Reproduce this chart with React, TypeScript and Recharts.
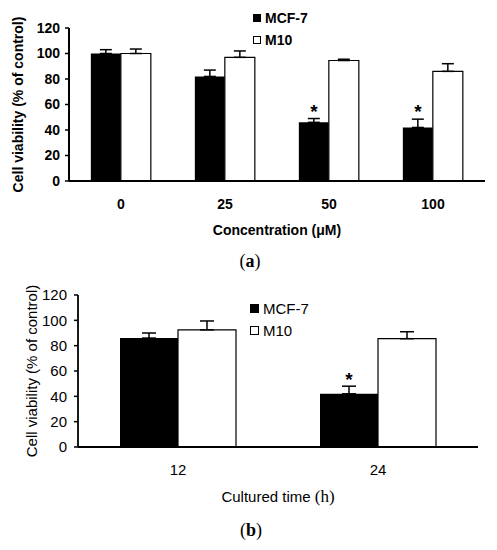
import { Bar, BarChart, ErrorBar, Label, LabelList, Legend, XAxis, YAxis } from 'recharts';

const concLabels = ['0', '25', '50', '100'];
const mcf7Conc = [100, 82, 46, 42];
const mcf7ConcErr = [3, 5, 3, 6.5];
const m10Conc = [100, 97, 94.5, 86];
const m10ConcErr = [3.5, 5, 1, 6];
const concMarks = ['', '', '*', '*'];

const timeLabels = ['12', '24'];
const mcf7Time = [86, 42];
const mcf7TimeErr = [4, 6];
const m10Time = [92.5, 85.5];
const m10TimeErr = [7, 5.5];
const timeMarks = ['', '*'];

const seriesNames = ['MCF-7', 'M10'];
const yTicks = [0, 20, 40, 60, 80, 100, 120];

const sans = '"Liberation Sans", Arial, sans-serif';
const serif = '"Liberation Serif", "Times New Roman", serif';

const concData = concLabels.map((label, i) => ({
    label,
    mcf7: mcf7Conc[i],
    mcf7Err: [0, mcf7ConcErr[i]],
    m10: m10Conc[i],
    m10Err: [0, m10ConcErr[i]],
    mark: concMarks[i],
}));

const timeData = timeLabels.map((label, i) => ({
    label,
    mcf7: mcf7Time[i],
    mcf7Err: [0, mcf7TimeErr[i]],
    m10: m10Time[i],
    m10Err: [0, m10TimeErr[i]],
    mark: timeMarks[i],
}));

// star sits just above the error whisker of the bar
const starLabel = (vals: number[], errs: number[], fontSize: number, weight: string, lift: number) => (props: any) => {
    const { index, value } = props;
    if (!value) return null;
    const vb = props.viewBox || props;
    const { x, y, width, height } = vb;
    const top = y - (height / vals[index]) * errs[index];
    return (
        <text x={x + width / 2} y={top - lift} textAnchor="middle" fontSize={fontSize} fontWeight={weight} fontFamily={sans} fill="#000">
            {value}
        </text>
    );
};

const legendContent = (bold: boolean, fontSize: number, box: number, rowH: number) => (props: any) => {
    const items = [...(props.payload || [])].sort((a: any, b: any) => seriesNames.indexOf(a.value) - seriesNames.indexOf(b.value));
    return (
        <div style={{ fontFamily: sans, fontSize, fontWeight: bold ? 'bold' : 'normal', color: '#000' }}>
            {items.map((entry: any) => (
                <div key={entry.value} style={{ display: 'flex', alignItems: 'center', height: rowH }}>
                    <span
                        style={{
                            display: 'inline-block',
                            width: box,
                            height: box,
                            boxSizing: 'border-box',
                            background: entry.color,
                            border: '1px solid #000',
                            marginRight: 4,
                        }}
                    />
                    <span>{entry.value}</span>
                </div>
            ))}
        </div>
    );
};

const yTitle = (text: string, cx: number, bold: boolean, fontSize: number) => (props: any) => {
    const vb = props.viewBox || {};
    const cy = vb.y + vb.height / 2;
    return (
        <text
            x={cx}
            y={cy}
            transform={`rotate(-90, ${cx}, ${cy})`}
            textAnchor="middle"
            dominantBaseline="central"
            fontSize={fontSize}
            fontWeight={bold ? 'bold' : 'normal'}
            fontFamily={sans}
            fill="#000"
        >
            {text}
        </text>
    );
};

function ConcChart() {
    return (
        <BarChart width={497} height={250} data={concData} margin={{ top: 28, right: 12, bottom: 29, left: 29 }} barCategoryGap="21%" barGap={0}>
            <XAxis
                dataKey="label"
                height={40}
                axisLine={{ stroke: '#000', strokeWidth: 2 }}
                tickLine={false}
                tickSize={0}
                tickMargin={18}
                tick={{ fill: '#000', fontSize: 14, fontWeight: 'bold', fontFamily: sans }}
            >
                <Label
                    content={(props: any) => {
                        const vb = props.viewBox || {};
                        return (
                            <text x={vb.x + vb.width / 2} y={235} textAnchor="middle" fontSize={14} fontWeight="bold" fontFamily={sans} fill="#000">
                                Concentration (μM)
                            </text>
                        );
                    }}
                />
            </XAxis>
            <YAxis
                width={40}
                domain={[0, 120]}
                ticks={yTicks}
                interval={0}
                axisLine={{ stroke: '#000', strokeWidth: 2 }}
                tickLine={{ stroke: '#000', strokeWidth: 1.5 }}
                tickSize={4}
                tickMargin={5}
                tick={{ fill: '#000', fontSize: 14, fontWeight: 'bold', fontFamily: sans }}
            >
                <Label content={yTitle('Cell viability (% of control)', 18, true, 14)} />
            </YAxis>
            <Legend
                layout="vertical"
                align="center"
                verticalAlign="middle"
                wrapperStyle={{ top: 7, left: 253 }}
                content={legendContent(true, 14, 8, 22)}
            />
            <Bar dataKey="mcf7" name="MCF-7" fill="#000" isAnimationActive={false}>
                <ErrorBar dataKey="mcf7Err" direction="y" width={6} stroke="#000" strokeWidth={1.5} />
                <LabelList dataKey="mark" content={starLabel(mcf7Conc, mcf7ConcErr, 19, 'bold', 1)} />
            </Bar>
            <Bar dataKey="m10" name="M10" fill="#fff" stroke="#000" strokeWidth={1.2} isAnimationActive={false}>
                <ErrorBar dataKey="m10Err" direction="y" width={6} stroke="#000" strokeWidth={1.5} />
            </Bar>
        </BarChart>
    );
}

function TimeChart() {
    return (
        <BarChart width={497} height={280} data={timeData} margin={{ top: 25, right: 19, bottom: 58, left: 33 }} barCategoryGap="21%" barGap={0}>
            <XAxis
                dataKey="label"
                height={45}
                axisLine={{ stroke: '#000', strokeWidth: 1.8 }}
                tickLine={false}
                tickSize={0}
                tickMargin={17}
                tick={{ fill: '#000', fontSize: 15, fontFamily: sans }}
            >
                <Label
                    content={(props: any) => {
                        const vb = props.viewBox || {};
                        return (
                            <text x={vb.x + vb.width / 2} y={232} textAnchor="middle" fontSize={15} fontFamily={sans} fill="#000">
                                Cultured time <tspan fontFamily={serif} fontSize={17}>(h)</tspan>
                            </text>
                        );
                    }}
                />
            </XAxis>
            <YAxis
                width={45}
                domain={[0, 120]}
                ticks={yTicks}
                interval={0}
                axisLine={{ stroke: '#000', strokeWidth: 1.8 }}
                tickLine={{ stroke: '#000', strokeWidth: 1.5 }}
                tickSize={4}
                tickMargin={7}
                tick={{ fill: '#000', fontSize: 15, fontFamily: sans }}
            >
                <Label content={yTitle('Cell viability (%  of control)', 31, false, 15)} />
            </YAxis>
            <Legend
                layout="vertical"
                align="center"
                verticalAlign="middle"
                wrapperStyle={{ top: 27, left: 250 }}
                content={legendContent(false, 15, 9, 22)}
            />
            <Bar dataKey="mcf7" name="MCF-7" fill="#000" isAnimationActive={false}>
                <ErrorBar dataKey="mcf7Err" direction="y" width={7} stroke="#000" strokeWidth={1.5} />
                <LabelList dataKey="mark" content={starLabel(mcf7Time, mcf7TimeErr, 19, 'bold', 0)} />
            </Bar>
            <Bar dataKey="m10" name="M10" fill="#fff" stroke="#000" strokeWidth={1.2} isAnimationActive={false}>
                <ErrorBar dataKey="m10Err" direction="y" width={7} stroke="#000" strokeWidth={1.5} />
            </Bar>
        </BarChart>
    );
}

export default function App() {
    return (
        <div style={{ position: 'absolute', left: 0, top: 0, width: 497, height: 550, background: '#fff' }}>
            <div style={{ position: 'absolute', left: 0, top: 0 }}>
                <ConcChart />
            </div>
            <div style={{ position: 'absolute', left: 0, top: 270 }}>
                <TimeChart />
            </div>
            <svg width={497} height={550} style={{ position: 'absolute', left: 0, top: 0, pointerEvents: 'none' }}>
                <text x={250} y={267} textAnchor="middle" fontSize={18} fontFamily={serif} fill="#000">
                    (<tspan fontWeight="bold">a</tspan>)
                </text>
                <text x={251} y={536} textAnchor="middle" fontSize={18} fontFamily={serif} fill="#000">
                    (<tspan fontWeight="bold">b</tspan>)
                </text>
            </svg>
        </div>
    );
}
